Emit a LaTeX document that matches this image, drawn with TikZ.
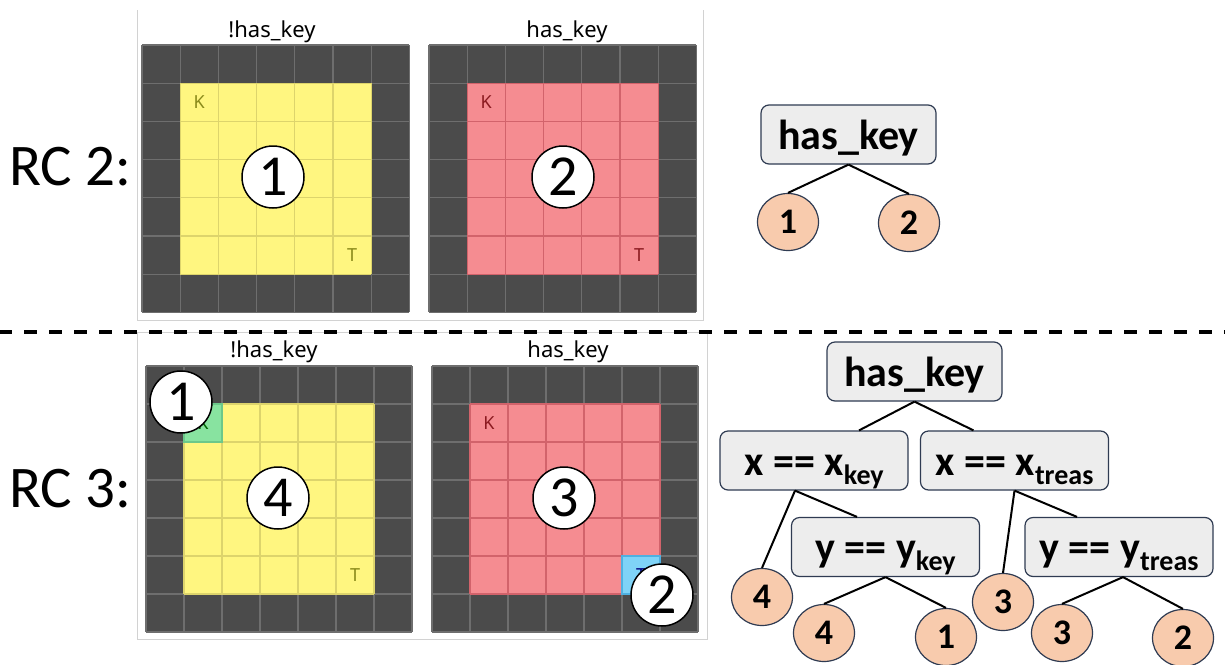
\documentclass[tikz,border=0pt]{standalone}
\usepackage{fontspec}
\setmainfont{Carlito}
\newfontfamily\uifont{Noto Sans}
\usetikzlibrary{shapes.geometric,calc}
\definecolor{cdark}{HTML}{4B4B4B}
\definecolor{cgline}{HTML}{6E6E6E}
\definecolor{cyel}{HTML}{FFF680}
\definecolor{cyell}{HTML}{DDD46C}
\definecolor{cpink}{HTML}{F58C91}
\definecolor{cpinkl}{HTML}{D2636B}
\definecolor{cgreen}{HTML}{88E3A0}
\definecolor{cgreenl}{HTML}{6CC88A}
\definecolor{cblue}{HTML}{7FD3F7}
\definecolor{cbluel}{HTML}{4FB0E0}
\definecolor{colive}{HTML}{8A8A1A}
\definecolor{cdred}{HTML}{8B1A20}
\definecolor{cframe}{HTML}{D2D2D2}
\definecolor{boxfill}{HTML}{EDEDED}
\definecolor{boxborder}{HTML}{2F3B52}
\definecolor{leaffill}{HTML}{F8CBAD}
\newcommand{\sbs}[1]{\raisebox{-9pt}{\fontsize{28}{28}\selectfont #1}}
\newcommand{\drawworld}[5]{%
\begin{scope}[shift={(#1,#2)}]
 \fill[cdark] (0,0) rectangle (7*#3,7*#3);
 \foreach \i in {0,...,7}{
   \draw[cgline, line width=1.3] (\i*#3,0) -- (\i*#3,7*#3);
   \draw[cgline, line width=1.3] (0,\i*#3) -- (7*#3,\i*#3);
 }
 \fill[#4] (#3,#3) rectangle (6*#3,6*#3);
 \foreach \i in {1,...,6}{
   \draw[#5, line width=1.2] (\i*#3,#3) -- (\i*#3,6*#3);
   \draw[#5, line width=1.2] (#3,\i*#3) -- (6*#3,\i*#3);
 }
\end{scope}}
\tikzset{
  rclabel/.style={inner sep=0, font=\fontsize{59}{59}\selectfont},
  glabel/.style={inner sep=0, font=\uifont\fontsize{22}{22}\selectfont},
  cellletter/.style={inner sep=0, font=\uifont\fontsize{18}{18}\selectfont},
  gnum/.style={circle, draw=black, line width=1.5, fill=white, minimum size=62, inner sep=0, font=\fontsize{58}{58}\selectfont},
  tbox/.style={draw=boxborder, fill=boxfill, rounded corners=8, line width=1.2, minimum height=59, inner sep=0, text height=32, text depth=3, font=\bfseries\fontsize{42}{42}\selectfont},
  leaf/.style={ellipse, draw=boxborder, fill=leaffill, line width=1.2, minimum width=61, minimum height=57, inner sep=0, font=\bfseries\fontsize{36}{36}\selectfont},
  edge/.style={line width=2, black},
  frame/.style={cframe, line width=1}
}
\begin{document}
\begin{tikzpicture}[x=1pt,y=-1pt]
\useasboundingbox (0,0) rectangle (1225,664);
\fill[white] (0,0) rectangle (1225,664);
% frames
\draw[frame] (137,10) -- (137,320) -- (703,320) -- (703,10);
\draw[frame] (137,332) rectangle (707,639);
% grids top
\drawworld{142}{45}{38.2}{cyel}{cyell}
\drawworld{429}{45}{38.2}{cpink}{cpinkl}
% grids bottom
\drawworld{146}{366}{38}{cyel}{cyell}
\drawworld{432}{366}{38}{cpink}{cpinkl}
\fill[cgreen] (184,404) rectangle (222,442);
\draw[cgreenl, line width=1.2] (184,404) rectangle (222,442);
\fill[cblue] (622,556) rectangle (660,594);
\draw[cbluel, line width=1.2] (622,556) rectangle (660,594);
% cell letters
\node[cellletter, text=colive] (kA) at (199.3,102.3) {K};
\node[cellletter, text=colive] (tA) at (352.1,255.1) {T};
\node[cellletter, text=cdred] (kB) at (486.3,102.3) {K};
\node[cellletter, text=cdred] (tB) at (639.1,255.1) {T};
\node[cellletter, text=green!40!black] (kC) at (203,423) {K};
\node[cellletter, text=colive] (tC) at (355,575) {T};
\node[cellletter, text=cdred] (kD) at (489,423) {K};
\node[cellletter, text=blue!50!black] (tD) at (641,575) {T};
% grid labels
\node[glabel, anchor=base] (lA) at (272,37) {!has\_key};
\node[glabel, anchor=base] (lB) at (567,37) {has\_key};
\node[glabel, anchor=base] (lC) at (274,357) {!has\_key};
\node[glabel, anchor=base] (lD) at (568,357) {has\_key};
% circles on grids
\node[gnum] (g1) at (273,177) {1};
\node[gnum] (g2) at (563,177) {2};
\node[gnum] (g1b) at (181,402) {1};
\node[gnum] (g4) at (278,498) {4};
\node[gnum] (g3) at (564,498) {3};
\node[gnum] (g2b) at (662,595) {2};
% RC labels
\node[rclabel, anchor=west] (rc2) at (9,167) {RC 2:};
\node[rclabel, anchor=west] (rc3) at (9,489) {RC 3:};
% dashed separator
\draw[line width=4, dash pattern=on 13 off 12] (-1,332) -- (1226,332);
% top tree
\node[tbox, minimum width=175] (hkA) at (848.5,134.5) {has\_key};
\node[leaf] (la1) at (788,222) {1};
\node[leaf] (la2) at (909,223) {2};
\draw[edge] (hkA.south) -- (la1.north);
\draw[edge] (hkA.south) -- (la2.north);
% bottom tree
\node[tbox, minimum width=175] (hkB) at (914.5,371.5) {has\_key};
\node[tbox, minimum width=188] (xk) at (814,460.5) {x == x\sbs{key}};
\node[tbox, minimum width=188] (xt) at (1014.5,460.5) {x == x\sbs{treas}};
\node[tbox, minimum width=188] (yk) at (885.5,547) {y == y\sbs{key}};
\node[tbox, minimum width=188] (yt) at (1119,547) {y == y\sbs{treas}};
\node[leaf] (l4a) at (762,597) {4};
\node[leaf] (l4b) at (824,633) {4};
\node[leaf] (l1) at (946,637) {1};
\node[leaf] (l3a) at (1003,602) {3};
\node[leaf] (l3b) at (1062,633) {3};
\node[leaf] (l2) at (1183,638) {2};
\draw[edge] (hkB.south) -- ($(xk.north)+(45,0)$);
\draw[edge] (hkB.south) -- ($(xt.north)+(-41,0)$);
\draw[edge] ($(xk.south)+(-19,0)$) -- (l4a.north);
\draw[edge] ($(xk.south)+(-19,0)$) -- ($(yk.north)+(-28.5,0)$);
\draw[edge] (xt.south) -- (l3a.north);
\draw[edge] (xt.south) -- ($(yt.north)+(-42,0)$);
\draw[edge] (yk.south) -- (l4b.north);
\draw[edge] (yk.south) -- (l1.north);
\draw[edge] ($(yt.south)+(4,0)$) -- (l3b.north);
\draw[edge] ($(yt.south)+(4,0)$) -- (l2.north);
\end{tikzpicture}
\end{document}
